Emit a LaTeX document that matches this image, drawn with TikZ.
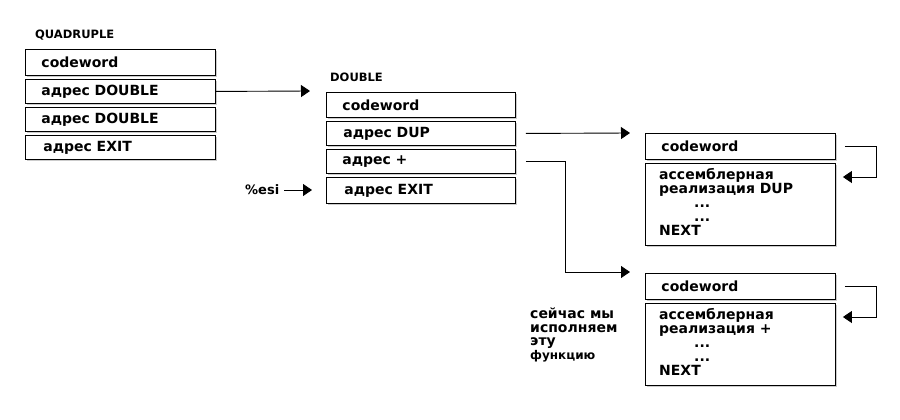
\documentclass[tikz,border=0pt]{standalone}
\usepackage{fontspec}
\setmainfont{DejaVu Sans}
\usetikzlibrary{arrows.meta,shadows,calc}
\begin{document}
\begin{tikzpicture}[x=1pt,y=-1pt,
  cell/.style={draw, line width=0.9pt, fill=white, anchor=north west,
    inner xsep=16pt, inner ysep=0pt, text width=#1, align=left,
    font=\bfseries\fontsize{14}{15}\selectfont,
    drop shadow={shadow xshift=1.8pt,shadow yshift=-1.8pt,fill=black!40}},
  cell/.default=158pt,
  lbl/.style={font=\bfseries\fontsize{11.5}{13}\selectfont, anchor=west, inner sep=0pt},
  txt/.style={font=\bfseries\fontsize{14}{14}\selectfont, anchor=north west, inner sep=0pt, align=left},
  conn/.style={line width=0.9pt, -{Triangle[length=9pt,width=12pt]}},
  plain/.style={line width=0.9pt}]
\useasboundingbox (0,0) rectangle (900,420);
% QUADRUPLE
\node[lbl] (qlbl) at (35,35) {QUADRUPLE};
\node[cell, minimum height=26pt] (q1) at (25,49) {codeword};
\node[cell, minimum height=24pt] (q2) at (25,79) {адрес DOUBLE};
\node[cell, minimum height=24pt] (q3) at (25,107) {адрес DOUBLE};
\node[cell, minimum height=24pt] (q4) at (25,135) {\hspace{2pt}адрес EXIT};
% DOUBLE
\node[lbl] (dlbl) at (330,77) {DOUBLE};
\node[cell=157pt, minimum height=25pt] (d1) at (326,92) {codeword};
\node[cell=157pt, minimum height=24pt] (d2) at (326,121) {\hspace{1pt}адрес DUP};
\node[cell=157pt, minimum height=24pt] (d3) at (326,149) {адрес +};
\node[cell=157pt, minimum height=26pt] (d4) at (326,177) {\hspace{2pt}адрес EXIT};
\node[txt, anchor=west, font=\bfseries\fontsize{13}{14}\selectfont] (esi) at (245,190) {\%esi};
\coordinate (esitip) at (312,190);
\draw[conn] ([xshift=5pt]esi.east) -- (esitip);
% DUP
\node[cell, minimum height=26pt] (u1) at (645,133) {codeword};
\node[cell, minimum height=82pt] (u2) at (645,163) {};
\node[txt] (u2t) at (659,168) {ассемблерная\\реализация DUP\\\hspace{35pt}...\\\hspace{35pt}...\\NEXT};
% PLUS
\node[cell, minimum height=26pt] (p1) at (645,273) {codeword};
\node[cell, minimum height=82pt] (p2) at (645,303) {};
\node[txt] (p2t) at (659,308) {ассемблерная\\реализация +\\\hspace{35pt}...\\\hspace{35pt}...\\NEXT};
% note
\node[txt, font=\bfseries\fontsize{14}{13.5}\selectfont] (note) at (530,308) {сейчас мы\\исполняем\\эту\\{\fontsize{12}{13.5}\selectfont функцию}};
% connectors
\coordinate (dtip) at (310,91);
\draw[conn] (q2.east) -- (dtip);
\coordinate (utip) at (630,133);
\draw[conn] ([xshift=10pt]d2.east) -- (utip);
\coordinate (ptip) at (630,272);
\coordinate (pbend) at (565,272);
\draw[conn] ([xshift=10pt]d3.east) -| (pbend) -- (ptip);
\coordinate (l1) at ([xshift=9pt]u1.east);
\coordinate (l2) at ($(u2.north east)+(7,14)$);
\coordinate (lc) at (876,0);
\draw[conn] (l1) -| (lc |- l2) -- (l2);
\coordinate (m1) at ([xshift=9pt]p1.east);
\coordinate (m2) at ($(p2.north east)+(7,14)$);
\draw[conn] (m1) -| (lc |- m2) -- (m2);
\end{tikzpicture}
\end{document}
